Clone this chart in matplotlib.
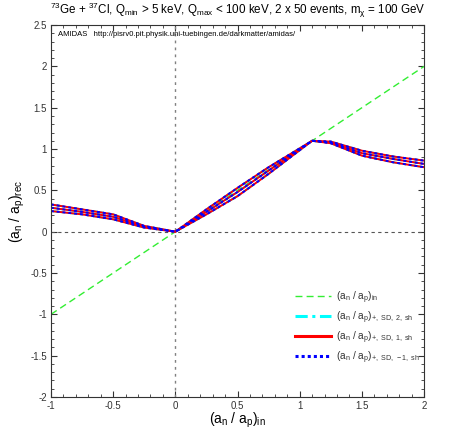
import numpy as np
import matplotlib
matplotlib.use("Agg")
from matplotlib import pyplot as plt
from matplotlib.ticker import MultipleLocator, FuncFormatter

plt.rcParams['font.family'] = ['Liberation Sans', 'DejaVu Sans']
plt.rcParams['mathtext.fontset'] = 'custom'
plt.rcParams['mathtext.rm'] = 'Liberation Sans'
plt.rcParams['mathtext.it'] = 'Liberation Sans'
plt.rcParams['axes.unicode_minus'] = False

# input ratio (green line)
x_in = [-1, 2]
y_in = [-1, 2]

# reconstructed ratio, central and 1-sigma bounds
x_rec = [-1, -0.75, -0.5, -0.25, 0, 0.25, 0.5, 0.75, 1.1, 1.25, 1.5, 1.75, 2]
y_mid = [0.29, 0.24, 0.18, 0.06, 0.0, 0.24, 0.48, 0.74, 1.10, 1.08, 0.95, 0.88, 0.82]
y_up = [0.33, 0.27, 0.21, 0.07, 0.0, 0.27, 0.53, 0.78, 1.10, 1.09, 0.98, 0.91, 0.86]
y_lo = [0.25, 0.21, 0.15, 0.05, 0.0, 0.21, 0.43, 0.70, 1.10, 1.07, 0.92, 0.84, 0.78]

lw = 1.4

fig = plt.figure(figsize=(4.63, 4.32), dpi=100)
ax = fig.add_axes([0.110, 0.081, 0.806, 0.861])

ax.axvline(0, color='gray', ls=(0, (2, 3)), lw=1)
ax.axhline(0, color='#555555', ls=(0, (3, 3)), lw=0.8)

ax.plot(x_in, y_in, color='#33ee33', ls=(0, (5, 3)), lw=1)
for y in (y_up, y_mid, y_lo):
    ax.plot(x_rec, y, color='cyan', ls='-.', lw=lw)
for y in (y_up, y_mid, y_lo):
    ax.plot(x_rec, y, color='red', lw=lw)
for y in (y_up, y_mid, y_lo):
    ax.plot(x_rec, y, color='blue', ls=(0, (1.5, 1.5)), lw=lw)

# legend handles
h_in, = ax.plot([], [], color='#33ee33', ls=(0, (5, 3)), lw=1)
h2, = ax.plot([], [], color='cyan', ls=(0, (4, 1.5, 1, 1.5)), lw=2.2)
h1, = ax.plot([], [], color='red', lw=2.2)
hm, = ax.plot([], [], color='blue', ls=(0, (1, 1)), lw=2.2)
ax.legend([h_in, h2, h1, hm],
          [r'$(a_n\ /\ a_p)_{in}$',
           r'$(a_n\ /\ a_p)_{+,\ SD,\ 2,\ sh}$',
           r'$(a_n\ /\ a_p)_{+,\ SD,\ 1,\ sh}$',
           r'$(a_n\ /\ a_p)_{+,\ SD,\ -1,\ sh}$'],
          loc='lower left', bbox_to_anchor=(0.63, 0.06), frameon=False,
          fontsize=7.3, handlelength=3.5, handletextpad=0.5, labelspacing=0.35,
          labelcolor='#333333')

ax.set_xlim(-1, 2)
ax.set_ylim(-2, 2.5)
ax.xaxis.set_major_locator(MultipleLocator(0.5))
ax.xaxis.set_minor_locator(MultipleLocator(0.1))
ax.yaxis.set_major_locator(MultipleLocator(0.5))
ax.yaxis.set_minor_locator(MultipleLocator(0.1))
ax.tick_params(which='both', direction='in', top=True, right=True, labelsize=7, pad=3,
               colors='#333333')
ax.tick_params(which='major', length=4)
ax.tick_params(which='minor', length=2)
ax.xaxis.set_major_formatter(FuncFormatter(lambda v, p: '%g' % v))
ax.yaxis.set_major_formatter(FuncFormatter(lambda v, p: '%g' % v))
for s in ax.spines.values():
    s.set_color('#333333')

ax.set_xlabel(r'$(a_n\ /\ a_p)_{in}$', fontsize=10, labelpad=0)
ax.set_ylabel(r'$(a_n\ /\ a_p)_{rec}$', fontsize=10, labelpad=2)
ax.set_title(r'$^{73}$Ge + $^{37}$Cl, Q$_{min}$ > 5 keV, Q$_{max}$ < 100 keV, 2 x 50 events, m$_{\chi}$ = 100 GeV',
             fontsize=8.4, pad=8)
ax.text(0.02, 0.985, 'AMIDAS   http://pisrv0.pit.physik.uni-tuebingen.de/darkmatter/amidas/',
        transform=ax.transAxes, fontsize=5.5, va='top', ha='left')

fig.savefig('out.png', dpi=100)
